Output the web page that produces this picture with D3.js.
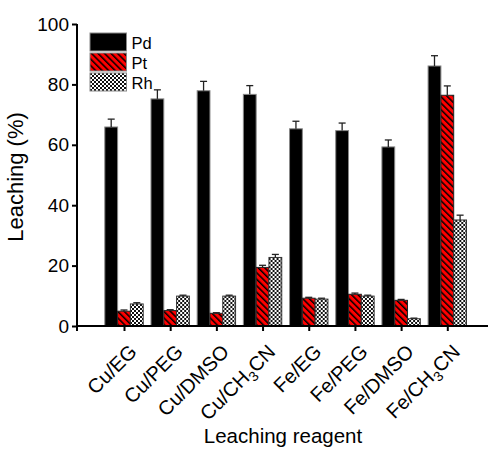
<!DOCTYPE html>
<html>
<head>
<meta charset="utf-8">
<script src="https://cdn.jsdelivr.net/npm/d3@7"></script>
<style>
  html, body { margin: 0; padding: 0; background: #fff; }
  svg { display: block; font-family: Arial, "Liberation Sans", sans-serif; }
</style>
</head>
<body>
<svg id="chart" width="488" height="449"></svg>
<script>
// Leaching reagents (x categories); "3" in CH3CN is drawn as a subscript
const categories = ["Cu/EG", "Cu/PEG", "Cu/DMSO", "Cu/CH3CN", "Fe/EG", "Fe/PEG", "Fe/DMSO", "Fe/CH3CN"];
const seriesNames = ["Pd", "Pt", "Rh"];

// Leaching (%) for each metal, and the upper error (SD)
const pdValues = [65.9, 75.2, 77.9, 76.7, 65.3, 64.7, 59.3, 86.1];
const pdErrors = [2.6, 3.0, 3.1, 2.9, 2.5, 2.5, 2.3, 3.4];
const ptValues = [4.9, 5.1, 4.2, 19.4, 9.2, 10.5, 8.5, 76.4];
const ptErrors = [0.4, 0.3, 0.2, 0.7, 0.3, 0.4, 0.3, 3.1];
const rhValues = [7.3, 9.9, 9.9, 22.7, 8.9, 9.9, 2.4, 35.1];
const rhErrors = [0.4, 0.3, 0.3, 1.0, 0.3, 0.3, 0.2, 1.6];

const yTicks = [0, 20, 40, 60, 80, 100];

const svg = d3.select("#chart");
const defs = svg.append("defs");

// Pt fill: red with thin black hatching running top-left to bottom-right
const hatch = defs.append("pattern")
  .attr("id", "hatchPt").attr("patternUnits", "userSpaceOnUse")
  .attr("width", 4.6).attr("height", 4.6)
  .attr("patternTransform", "rotate(-45)");
hatch.append("rect").attr("width", 4.6).attr("height", 4.6).attr("fill", "#ff0000");
hatch.append("rect").attr("x", 0).attr("y", 0).attr("width", 1.5).attr("height", 4.6).attr("fill", "#000");

// Rh fill: fine black/white checkerboard
const checker = defs.append("pattern")
  .attr("id", "checkRh").attr("patternUnits", "userSpaceOnUse")
  .attr("width", 4).attr("height", 4);
checker.append("rect").attr("width", 4).attr("height", 4).attr("fill", "#fff");
checker.append("rect").attr("width", 2).attr("height", 2).attr("fill", "#111");
checker.append("rect").attr("x", 2).attr("y", 2).attr("width", 2).attr("height", 2).attr("fill", "#111");

const fills = { Pd: "#000", Pt: "url(#hatchPt)", Rh: "url(#checkRh)" };
const strokes = { Pd: "#888", Pt: "#222", Rh: "#333" };

const axisLeftX = 77, axisRightX = 488;
const y = d3.scaleLinear().domain([0, 100]).range([326, 24]);
const x = d3.scalePoint().domain(categories).range([124, 447.3]);
const sub = d3.scaleBand().domain(seriesNames).range([-19.2, 19.2]).padding(0);

const rows = categories.map((c, i) => ({
  cat: c,
  bars: [
    { s: "Pd", v: pdValues[i], e: pdErrors[i] },
    { s: "Pt", v: ptValues[i], e: ptErrors[i] },
    { s: "Rh", v: rhValues[i], e: rhErrors[i] }
  ]
}));

// Bars
const groups = svg.append("g").selectAll("g").data(rows).join("g")
  .attr("transform", d => `translate(${x(d.cat)},0)`);

groups.selectAll("rect.bar").data(d => d.bars).join("rect")
  .attr("class", "bar")
  .attr("x", d => sub(d.s))
  .attr("width", sub.bandwidth())
  .attr("y", d => y(d.v))
  .attr("height", d => y(0) - y(d.v))
  .attr("fill", d => fills[d.s])
  .attr("stroke", d => strokes[d.s])
  .attr("stroke-width", 1);

// Error bars (upper only)
const eb = groups.selectAll("g.err").data(d => d.bars).join("g").attr("class", "err")
  .attr("stroke", "#222").attr("stroke-width", 1.3);
eb.append("line")
  .attr("x1", d => sub(d.s) + sub.bandwidth() / 2)
  .attr("x2", d => sub(d.s) + sub.bandwidth() / 2)
  .attr("y1", d => y(d.v))
  .attr("y2", d => y(d.v + d.e));
eb.append("line")
  .attr("x1", d => sub(d.s) + sub.bandwidth() / 2 - 3.5)
  .attr("x2", d => sub(d.s) + sub.bandwidth() / 2 + 3.5)
  .attr("y1", d => y(d.v + d.e))
  .attr("y2", d => y(d.v + d.e));

// Y axis
const yAxis = svg.append("g").attr("transform", `translate(${axisLeftX},0)`)
  .call(d3.axisLeft(y).tickValues(yTicks).tickSize(5).tickPadding(3));
yAxis.attr("font-size", null).attr("font-family", null);
yAxis.select(".domain").attr("stroke", "#000").attr("stroke-width", 2)
  .attr("d", `M0,${y(100)}V${y(0) + 5}`);
yAxis.selectAll(".tick line").attr("stroke", "#000").attr("stroke-width", 2);
yAxis.selectAll(".tick text").style("font-size", "19px").attr("fill", "#000");

// X axis
const xAxis = svg.append("g").attr("transform", `translate(0,${y(0)})`)
  .call(d3.axisBottom(x).tickSize(5).tickFormat(""));
xAxis.select(".domain").attr("stroke", "#000").attr("stroke-width", 2)
  .attr("d", `M${axisLeftX},0H${axisRightX}`);
xAxis.selectAll(".tick line").attr("stroke", "#000").attr("stroke-width", 2);

// Rotated category labels, CH3 subscript
const lab = svg.append("g").selectAll("text").data(categories).join("text")
  .attr("transform", d => `translate(${x(d) + 14},${y(0) + 27}) rotate(-45)`)
  .attr("text-anchor", "end")
  .style("font-size", "20px")
  .attr("fill", "#000");
lab.each(function(d) {
  const t = d3.select(this);
  const m = d.match(/^(.*CH)3(CN)$/);
  if (m) {
    t.append("tspan").text(m[1]);
    t.append("tspan").style("font-size", "14px").attr("dy", 5).text("3");
    t.append("tspan").attr("dy", -5).text(m[2]);
  } else {
    t.text(d);
  }
});

// Axis titles
svg.append("text")
  .attr("transform", `translate(23,177) rotate(-90)`)
  .attr("text-anchor", "middle").style("font-size", "22px").attr("fill", "#000")
  .text("Leaching (%)");
svg.append("text")
  .attr("x", 283).attr("y", 443)
  .attr("text-anchor", "middle").style("font-size", "20.5px").attr("fill", "#000")
  .text("Leaching reagent");

// Legend
const legend = svg.append("g").attr("transform", "translate(90,33)");
const li = legend.selectAll("g").data(seriesNames).join("g")
  .attr("transform", (d, i) => `translate(0,${i * 20})`);
li.append("rect").attr("width", 36.5).attr("height", 18)
  .attr("fill", d => fills[d]).attr("stroke", "#888").attr("stroke-width", 1);
li.append("text").attr("x", 41.5).attr("y", 15.5).style("font-size", "16.5px").attr("fill", "#000")
  .text(d => d);
</script>
</body>
</html>
